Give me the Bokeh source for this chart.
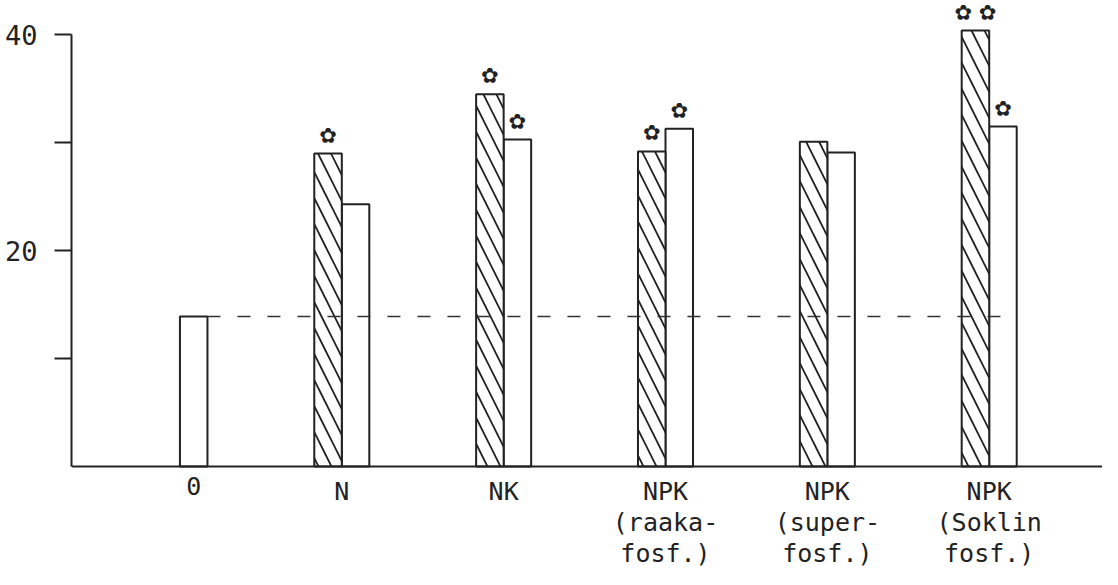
from bokeh.plotting import figure
from bokeh.models import Range1d, FixedTicker, LinearAxis, Span
from bokeh.core.properties import value
from bokeh.embed import file_html
from bokeh.resources import INLINE

# ---- data ----
categories = ["0", "N", "NK", "NPK\n(raaka-\nfosf.)", "NPK\n(super-\nfosf.)", "NPK\n(Soklin\nfosf.)"]
hatched_values = [None, 29.0, 34.5, 29.2, 30.1, 40.4]   # hatched bars
white_values = [13.9, 24.3, 30.3, 31.3, 29.1, 31.5]     # open bars
hatched_sig = ["", "*", "*", "*", "", "**"]
white_sig = ["", "", "*", "*", "", "*"]
control_value = white_values[0]
y_ticks = [10, 20, 30, 40]
y_tick_labels = {10: "", 20: "20", 30: "", 40: "40"}

INK = "#222222"
BAR_W = 0.17
FLOWER = "\u273f"

W, H = 1102, 569
LEFT = 71
zero_px = 466          # y position of value 0 from the top of the figure
px_per_unit = 10.79
y_top = zero_px / px_per_unit
y_bot = -(H - zero_px) / px_per_unit

p = figure(width=W, height=H, output_backend="svg", toolbar_location=None,
           x_range=Range1d(-0.670, 5.700), y_range=Range1d(y_bot, y_top),
           min_border_left=LEFT, min_border_right=0, min_border_top=0, min_border_bottom=0,
           x_axis_type=None, y_axis_type=None)
p.outline_line_color = None
p.grid.visible = False
p.background_fill_color = "white"
p.border_fill_color = "white"

yaxis = LinearAxis(bounds=(0, 40))
yaxis.ticker = FixedTicker(ticks=y_ticks)
yaxis.major_label_overrides = y_tick_labels
yaxis.minor_tick_line_color = None
yaxis.major_tick_in = 0
yaxis.major_tick_out = 17
yaxis.major_tick_line_width = 2
yaxis.major_tick_line_color = INK
yaxis.axis_line_width = 2
yaxis.axis_line_color = INK
yaxis.major_label_standoff = 17
yaxis.major_label_text_font = "DejaVu Sans Mono"
yaxis.major_label_text_font_size = "27px"
yaxis.major_label_text_color = INK
p.add_layout(yaxis, "left")

# x axis line at zero
p.add_layout(Span(location=0, dimension="width", line_color=INK, line_width=2))

# bars
hx = [i - BAR_W / 2 for i, v in enumerate(hatched_values) if v is not None]
hv = [v for v in hatched_values if v is not None]
wx = [i + BAR_W / 2 for i in range(len(white_values))]

p.vbar(x=wx, top=white_values, bottom=0, width=BAR_W, fill_color="white",
       line_color=INK, line_width=2)
p.vbar(x=hx, top=hv, bottom=0, width=BAR_W, fill_color="white",
       line_color=INK, line_width=2, hatch_pattern="left_diagonal_line",
       hatch_color=INK, hatch_weight=1.8, hatch_scale=26)

# dashed control line
p.line(x=[0 + BAR_W, len(categories) - 1 + BAR_W], y=[control_value, control_value],
       line_color="#333333", line_width=1.6, line_dash="13 17")

# significance marks
sx, sy, st = [], [], []
for i, (v, s) in enumerate(zip(hatched_values, hatched_sig)):
    if v is not None and s:
        sx.append(i - BAR_W / 2); sy.append(v); st.append(" ".join([FLOWER] * len(s)))
for i, (v, s) in enumerate(zip(white_values, white_sig)):
    if s:
        sx.append(i + BAR_W / 2); sy.append(v); st.append(" ".join([FLOWER] * len(s)))
p.text(x=sx, y=sy, text=st, y_offset=-18, text_align="center", text_baseline="middle",
       text_font=value("DejaVu Sans"), text_font_size="21px", text_color=INK)

# category labels: centred under the bars present in each group
lx = [i + BAR_W / 2 if hatched_values[i] is None else i for i in range(len(categories))]
p.text(x=lx, y=[0] * len(categories), text=categories,
       y_offset=10, text_align="center", text_baseline="top",
       text_font=value("DejaVu Sans Mono"), text_font_size="25px",
       text_line_height=1.08, text_color=INK)

open("out.html", "w").write(file_html(p, INLINE))
